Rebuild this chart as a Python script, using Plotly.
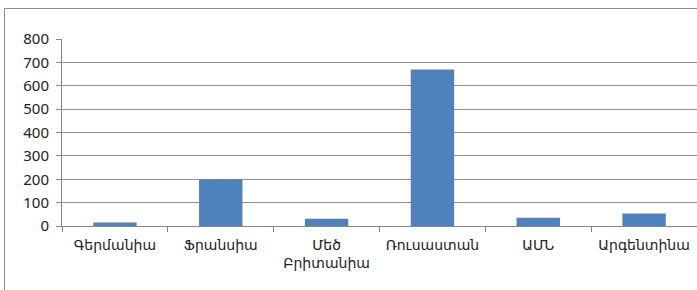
import plotly.graph_objects as go

categories = ["Գերմանիա", "Ֆրանսիա", "Մեծ<br>Բրիտանիա", "Ռուսաստան", "ԱՄՆ", "Արգենտինա"]
values = [15, 200, 31, 670, 35, 53]
y_ticks = [0, 100, 200, 300, 400, 500, 600, 700, 800]

W, H = 697, 290
ml, mr, mt, mb = 62, 0, 39, 64
pw = W - ml - mr
ph = H - mt - mb

def px_to_paper_x(px):
    return (px - ml) / pw

def px_to_paper_y(py):
    return (H - mb - py) / ph

fig = go.Figure(go.Bar(x=categories, y=values, marker_color="#4F81BD",
                       marker_line_width=0))

fig.update_layout(
    width=W, height=H,
    margin=dict(l=ml, r=mr, t=mt, b=mb, autoexpand=False),
    paper_bgcolor="white", plot_bgcolor="white",
    bargap=0.59,
    showlegend=False,
    font=dict(family="Noto Sans, DejaVu Sans, sans-serif", size=13, color="#222"),
    xaxis=dict(
        type="category",
        showline=True, linecolor="#868686", linewidth=1,
        ticks="outside", tickson="boundaries", ticklen=5, tickcolor="#868686",
        showgrid=False, tickfont=dict(size=14), ticklabelstandoff=6,
    ),
    yaxis=dict(
        range=[0, 800], tickvals=y_ticks,
        showline=True, linecolor="#868686", linewidth=1,
        ticks="outside", ticklen=5, tickcolor="#868686",
        showgrid=True, gridcolor="#8e8e8e", gridwidth=1,
        zeroline=False, tickfont=dict(size=15), ticklabelstandoff=4,
    ),
    shapes=[
        dict(type="line", xref="paper", yref="paper",
             x0=px_to_paper_x(4.5), x1=px_to_paper_x(697),
             y0=px_to_paper_y(8.5), y1=px_to_paper_y(8.5),
             line=dict(color="#8c8c8c", width=1)),
        dict(type="line", xref="paper", yref="paper",
             x0=px_to_paper_x(4.5), x1=px_to_paper_x(4.5),
             y0=px_to_paper_y(8.5), y1=px_to_paper_y(290),
             line=dict(color="#8c8c8c", width=1)),
    ],
)

fig.write_html("out.html", config={"displayModeBar": False},
               post_script="document.body.style.margin='0';document.body.style.overflow='hidden';")
